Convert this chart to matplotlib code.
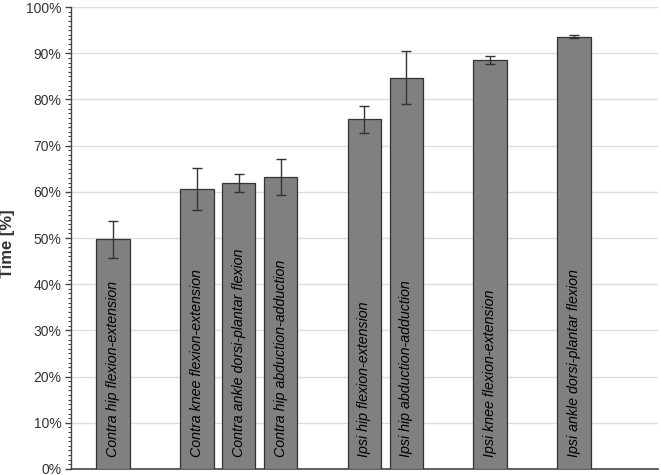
import matplotlib
matplotlib.use("Agg")
import matplotlib.pyplot as plt
from matplotlib.ticker import MultipleLocator, FuncFormatter

categories = [
    "Contra hip flexion-extension",
    "Contra knee flexion-extension",
    "Contra ankle dorsi-plantar flexion",
    "Contra hip abduction-adduction",
    "Ipsi hip flexion-extension",
    "Ipsi hip abduction-adduction",
    "Ipsi knee flexion-extension",
    "Ipsi ankle dorsi-plantar flexion",
]
positions = [0, 2, 3, 4, 6, 7, 9, 11]
values = [49.7, 60.6, 61.9, 63.3, 75.7, 84.7, 88.5, 93.6]
errors = [4.0, 4.5, 2.0, 3.9, 2.9, 5.7, 0.9, 0.3]
yticks = [0, 10, 20, 30, 40, 50, 60, 70, 80, 90, 100]

plt.rcParams['font.family'] = ['Liberation Sans', 'DejaVu Sans']

fig = plt.figure(figsize=(6.61, 4.75), dpi=100)
ax = fig.add_axes([0.1074, 0.0128, 0.888, 0.9722])

ax.bar(positions, values, width=0.8, color='#808080', edgecolor='#333333',
       linewidth=0.9, zorder=3)
ax.errorbar(positions, values, yerr=errors, fmt='none', ecolor='#333333',
            elinewidth=1.0, capsize=3.3, capthick=1.0, zorder=4)

for x, lab in zip(positions, categories):
    ax.text(x, 2.6, lab, rotation=90, ha='center', va='bottom',
            fontsize=10.3, fontstyle='italic', color='#000000', zorder=5)

ax.set_xlim(-1, 13)
ax.set_ylim(0, 100)
ax.set_yticks(yticks)
ax.yaxis.set_major_formatter(FuncFormatter(lambda v, p: f"{int(v)}%"))
ax.yaxis.set_minor_locator(MultipleLocator(1))
ax.set_xticks([])
ax.grid(axis='y', color='#dedede', linewidth=1.0, zorder=0)
ax.set_axisbelow(True)

for s in ['top', 'right']:
    ax.spines[s].set_visible(False)
ax.spines['left'].set_color('#444444')
ax.spines['bottom'].set_color('#444444')
ax.spines['left'].set_linewidth(1.0)
ax.spines['bottom'].set_linewidth(1.2)

ax.tick_params(axis='y', which='major', length=4, width=1.0, color='#444444',
               labelsize=10, labelcolor='#333333', pad=3)
ax.tick_params(axis='y', which='minor', length=2, width=0.8, color='#444444')

ax.set_ylabel("Time [%]", fontsize=12, fontweight='bold', color='#333333')
ax.yaxis.set_label_coords(-0.095, 0.488)

fig.savefig("out.png", dpi=100)
